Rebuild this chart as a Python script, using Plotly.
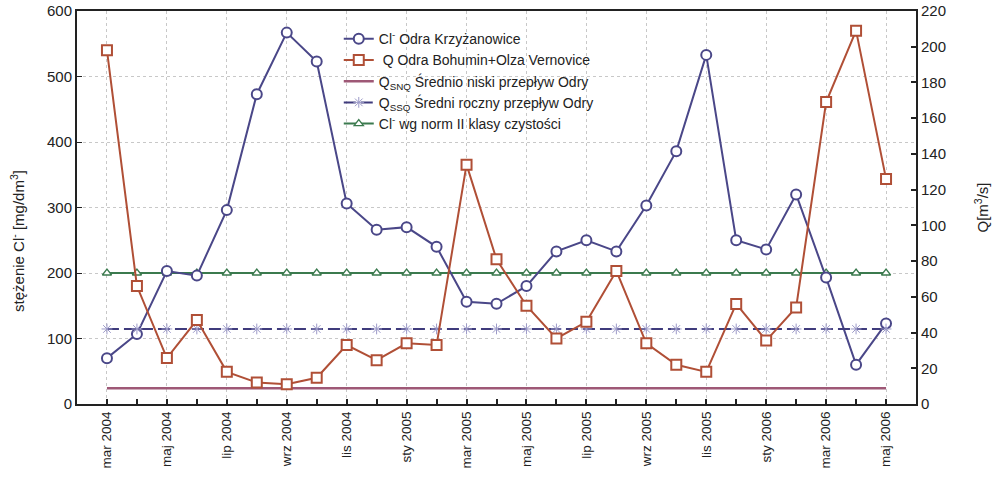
import plotly.graph_objects as go

months = ["mar 2004", "kwi 2004", "maj 2004", "cze 2004", "lip 2004", "sie 2004", "wrz 2004",
          "paź 2004", "lis 2004", "gru 2004", "sty 2005", "lut 2005", "mar 2005", "kwi 2005",
          "maj 2005", "cze 2005", "lip 2005", "sie 2005", "wrz 2005", "paź 2005", "lis 2005",
          "gru 2005", "sty 2006", "lut 2006", "mar 2006", "kwi 2006", "maj 2006"]
x_idx = list(range(len(months)))

cl_krzyzanowice = [70, 107, 203, 196, 296, 473, 567, 523, 306, 266, 270, 240, 156, 153,
                   180, 233, 250, 233, 303, 386, 533, 250, 236, 320, 193, 60, 123]
q_bohumin = [198, 66, 25.7, 47, 18, 12, 11, 14.7, 33, 24.5, 34, 33, 134, 81,
             55, 36.7, 46, 74.5, 34, 22, 18, 56, 35.5, 54, 169, 209, 126]
q_snq = [8.8] * len(months)
q_ssq = [42] * len(months)
cl_norm = [200] * len(months)

tick_vals = x_idx[::2]
tick_text = months[::2]

C_CL = "#4A4788"
C_Q = "#B04F36"
C_SNQ = "#9E5876"
C_SSQ = "#3F3B7C"
C_NORM = "#3B7A4E"

fig = go.Figure()

fig.add_trace(go.Scatter(
    x=x_idx, y=q_snq, yaxis="y2", mode="lines",
    line=dict(color=C_SNQ, width=2.5),
    name="Q<sub>SNQ</sub> Średnio niski przepływ Odry", legendrank=3))
fig.add_trace(go.Scatter(
    x=x_idx, y=q_ssq, yaxis="y2", mode="lines+markers",
    line=dict(color=C_SSQ, width=2, dash="12px,5px"),
    marker=dict(symbol="asterisk-open", size=9, color="#9C9AC8", line=dict(width=1, color="#9C9AC8")),
    name="Q<sub>SSQ</sub> Średni roczny przepływ Odry", legendrank=4))
fig.add_trace(go.Scatter(
    x=x_idx, y=cl_norm, mode="lines+markers",
    line=dict(color=C_NORM, width=2),
    marker=dict(symbol="triangle-up", size=8, color="white", line=dict(width=1.3, color=C_NORM)),
    name="Cl<sup>-</sup> wg norm II klasy czystości", legendrank=5))
fig.add_trace(go.Scatter(
    x=x_idx, y=q_bohumin, yaxis="y2", mode="lines+markers",
    line=dict(color=C_Q, width=2),
    marker=dict(symbol="square", size=10, color="white", line=dict(width=2, color=C_Q)),
    name=" Q Odra Bohumin+Olza Vernovice", legendrank=2))
fig.add_trace(go.Scatter(
    x=x_idx, y=cl_krzyzanowice, mode="lines+markers",
    line=dict(color=C_CL, width=2),
    marker=dict(symbol="circle", size=10, color="white", line=dict(width=2, color=C_CL)),
    name="Cl<sup>-</sup> Odra Krzyżanowice", legendrank=1))

font_family = "Liberation Sans, Arial, sans-serif"

fig.update_layout(
    width=992, height=482,
    margin=dict(l=77, r=76, t=11, b=78, autoexpand=False),
    paper_bgcolor="white", plot_bgcolor="white",
    font=dict(family=font_family, size=14, color="#222"),
    showlegend=True,
    legend=dict(x=0.312, y=0.969, xanchor="left", yanchor="top",
                bgcolor="rgba(0,0,0,0)", font=dict(size=14, color="#222"),
                tracegroupgap=0, itemwidth=30),
    xaxis=dict(
        range=[-1, 27], tickmode="array", tickvals=tick_vals, ticktext=tick_text,
        tickangle=-90, ticks="inside", ticklen=5, tickwidth=1.5, tickcolor="#222",
        showline=True, linecolor="#222", linewidth=2, mirror=True,
        showgrid=True, gridcolor="#c8c8c8", griddash="dot", gridwidth=1,
        tickfont=dict(size=13.5), automargin=False, ticklabeloverflow="allow",
        minor=dict(dtick=1, tick0=0, ticks="inside", ticklen=5, tickwidth=1.5, tickcolor="#222", showgrid=False),
        zeroline=False,
    ),
    yaxis=dict(
        range=[0, 600], dtick=100, ticks="inside", ticklen=5, tickcolor="#222",
        showline=True, linecolor="#222", linewidth=2, mirror=False,
        showgrid=True, gridcolor="#c8c8c8", griddash="dot", gridwidth=1,
        zeroline=False, tickfont=dict(size=15), automargin=False, ticklabeloverflow="allow",
    ),
    yaxis2=dict(
        range=[0, 220], dtick=20, ticks="inside", ticklen=5, tickwidth=1.5, tickcolor="#222",
        overlaying="y", side="right", showline=True, linecolor="#222", linewidth=2,
        showgrid=False, zeroline=False, tickfont=dict(size=15), automargin=False,
        ticklabeloverflow="allow",
    ),
    annotations=[
        dict(text="stężenie Cl<sup>-</sup> [mg/dm<sup>3</sup>]", xref="paper", yref="paper",
             x=-0.0703, y=0.415, textangle=-90, showarrow=False, font=dict(size=15),
             xanchor="center", yanchor="middle"),
        dict(text="Q[m<sup>3</sup>/s]", xref="paper", yref="paper",
             x=1.0775, y=0.5, textangle=-90, showarrow=False, font=dict(size=15),
             xanchor="center", yanchor="middle"),
    ],
)

fig.write_html("out.html", config={"displayModeBar": False},
               post_script="document.body.style.margin='0px';")
